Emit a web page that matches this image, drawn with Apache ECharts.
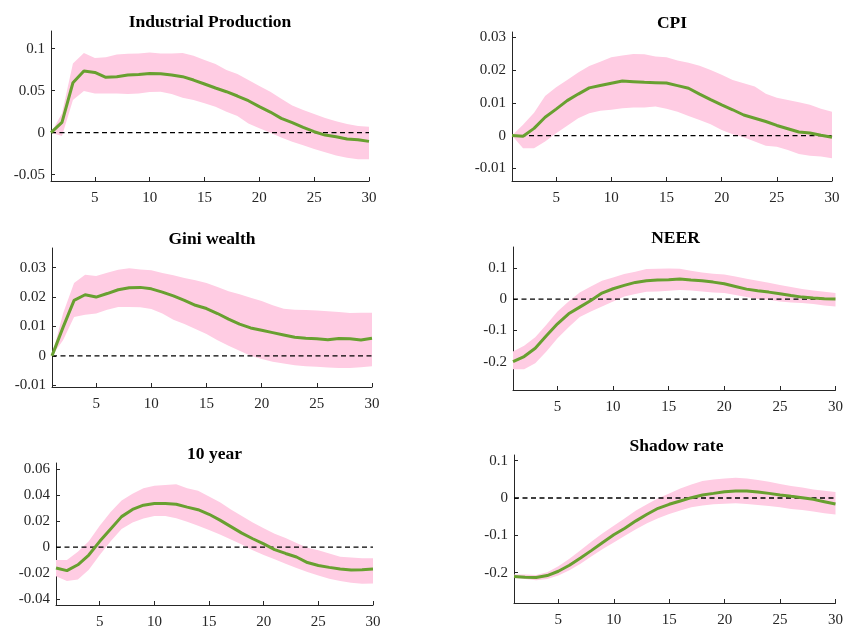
<!DOCTYPE html>
<html>
<head>
<meta charset="utf-8">
<script src="https://cdn.jsdelivr.net/npm/echarts@6/dist/echarts.min.js"></script>
<style>
html,body{margin:0;padding:0;background:#fff;}
#chart{width:846px;height:630px;}
</style>
</head>
<body>
<div id="chart"></div>
<script>
// Horizons 1..30
var horizons = [];
for (var h = 1; h <= 30; h++) horizons.push(h);
var xTicks = [5, 10, 15, 20, 25, 30];

var titles = ["Industrial Production", "CPI", "Gini wealth", "NEER", "10 year", "Shadow rate"];

// Industrial Production
var ipMedian = [0, 0.0123, 0.0595, 0.0734, 0.0718, 0.0659, 0.0667, 0.0687, 0.0694, 0.0706, 0.0702, 0.0687, 0.0667, 0.0627, 0.058, 0.0532, 0.0488, 0.0437, 0.0381, 0.031, 0.0246, 0.0171, 0.0119, 0.0063, 0.0012, -0.0028, -0.0048, -0.0075, -0.0083, -0.0103];
var ipUpper = [0, 0.023, 0.0825, 0.095, 0.089, 0.0897, 0.093, 0.094, 0.0944, 0.0956, 0.0944, 0.0944, 0.095, 0.0917, 0.0865, 0.0817, 0.0746, 0.0698, 0.0627, 0.0556, 0.0488, 0.0405, 0.0325, 0.027, 0.0222, 0.0175, 0.0135, 0.0103, 0.0079, 0.0071];
var ipLower = [0, -0.004, 0.039, 0.0496, 0.0468, 0.0468, 0.0468, 0.046, 0.0468, 0.0484, 0.0488, 0.046, 0.0417, 0.039, 0.035, 0.031, 0.025, 0.0198, 0.011, 0.0052, 0, -0.0056, -0.0107, -0.015, -0.0194, -0.0234, -0.027, -0.0298, -0.0317, -0.0317];
var ipTicks = [-0.05, 0, 0.05, 0.1];

// CPI
var cpiMedian = [0, -0.0002, 0.0022, 0.0056, 0.0081, 0.0107, 0.0127, 0.0146, 0.0153, 0.016, 0.0167, 0.0165, 0.0163, 0.0162, 0.0161, 0.0153, 0.0145, 0.0127, 0.011, 0.0094, 0.0079, 0.0063, 0.0053, 0.0043, 0.0031, 0.0021, 0.0011, 0.0008, 0.0001, -0.0005];
var cpiUpper = [0, 0.0033, 0.007, 0.0121, 0.0148, 0.017, 0.0193, 0.0213, 0.0226, 0.024, 0.0245, 0.025, 0.0249, 0.0242, 0.024, 0.023, 0.0223, 0.0214, 0.0201, 0.0186, 0.017, 0.016, 0.015, 0.0128, 0.0116, 0.0109, 0.0102, 0.0094, 0.0082, 0.0073];
var cpiLower = [0, -0.0039, -0.0039, -0.0018, 0.0007, 0.003, 0.0053, 0.0068, 0.0076, 0.0079, 0.0084, 0.0086, 0.0086, 0.0089, 0.0082, 0.0073, 0.006, 0.0048, 0.0035, 0.0017, 0.0004, -0.0005, -0.0018, -0.0031, -0.0034, -0.0044, -0.0056, -0.0062, -0.0064, -0.0069];
var cpiTicks = [-0.01, 0, 0.01, 0.02, 0.03];

// Gini wealth
var giniMedian = [0, 0.0097, 0.0189, 0.0208, 0.02, 0.0212, 0.0225, 0.0232, 0.0233, 0.0228, 0.0217, 0.0204, 0.0189, 0.0172, 0.0161, 0.0144, 0.0125, 0.0108, 0.0095, 0.0087, 0.0079, 0.0071, 0.0063, 0.006, 0.0058, 0.0055, 0.0059, 0.0058, 0.0054, 0.006];
var giniUpper = [0, 0.0144, 0.0248, 0.0276, 0.0272, 0.0283, 0.0293, 0.0298, 0.0294, 0.0291, 0.0282, 0.0274, 0.0265, 0.0257, 0.0248, 0.0234, 0.022, 0.021, 0.0198, 0.0187, 0.0172, 0.016, 0.0157, 0.0156, 0.0154, 0.0152, 0.0149, 0.0146, 0.0147, 0.0147];
var giniLower = [0, 0.0053, 0.0132, 0.014, 0.0144, 0.0157, 0.0166, 0.0166, 0.0165, 0.0159, 0.0144, 0.0123, 0.0108, 0.0091, 0.0074, 0.0053, 0.0034, 0.0017, 0, -0.0011, -0.002, -0.0026, -0.0032, -0.0035, -0.0037, -0.004, -0.0041, -0.0041, -0.0039, -0.0035];
var giniTicks = [-0.01, 0, 0.01, 0.02, 0.03];

// NEER
var neerMedian = [-0.2, -0.1836, -0.157, -0.117, -0.079, -0.047, -0.0256, -0.0043, 0.0192, 0.0331, 0.0438, 0.0534, 0.0587, 0.0608, 0.0619, 0.064, 0.0608, 0.0587, 0.0544, 0.049, 0.0406, 0.032, 0.0267, 0.0224, 0.0171, 0.0117, 0.0064, 0.0032, 0.001, 0];
var neerUpper = [-0.1675, -0.149, -0.122, -0.082, -0.0395, -0.0075, 0.0213, 0.0405, 0.0587, 0.0694, 0.08, 0.0875, 0.096, 0.0971, 0.0982, 0.0971, 0.0907, 0.0854, 0.0811, 0.079, 0.0726, 0.0651, 0.0587, 0.0523, 0.0448, 0.0384, 0.032, 0.0277, 0.0235, 0.0192];
var neerLower = [-0.224, -0.224, -0.205, -0.1675, -0.125, -0.0896, -0.0576, -0.0395, -0.0235, -0.0075, 0.0085, 0.016, 0.0235, 0.0245, 0.0267, 0.0288, 0.0277, 0.0245, 0.0213, 0.0192, 0.0128, 0.0064, 0, -0.0021, -0.0075, -0.0107, -0.0128, -0.016, -0.0203, -0.0235];
var neerTicks = [-0.2, -0.1, 0, 0.1];

// 10 year
var tenMedian = [-0.016, -0.018, -0.0135, -0.006, 0.0045, 0.014, 0.0235, 0.029, 0.0323, 0.0335, 0.0335, 0.033, 0.0308, 0.0288, 0.0253, 0.0208, 0.0158, 0.0108, 0.0065, 0.0025, -0.0018, -0.0048, -0.0075, -0.0118, -0.014, -0.0155, -0.0168, -0.0175, -0.0173, -0.0168];
var tenUpper = [-0.0098, -0.0098, -0.0035, 0.0045, 0.0165, 0.027, 0.0358, 0.041, 0.0453, 0.0473, 0.0478, 0.0483, 0.0453, 0.0433, 0.039, 0.0345, 0.029, 0.024, 0.019, 0.0145, 0.0103, 0.007, 0.0033, -0.0005, -0.0023, -0.0048, -0.0073, -0.008, -0.0085, -0.0085];
var tenLower = [-0.0223, -0.026, -0.0248, -0.0173, -0.006, 0.0045, 0.014, 0.019, 0.022, 0.024, 0.024, 0.0223, 0.0195, 0.0165, 0.0133, 0.0098, 0.006, 0.002, -0.0023, -0.006, -0.0093, -0.0128, -0.016, -0.019, -0.0218, -0.0243, -0.026, -0.0273, -0.028, -0.0278];
var tenTicks = [-0.04, -0.02, 0, 0.02, 0.04, 0.06];

// Shadow rate
var shadowMedian = [-0.2107, -0.2124, -0.2133, -0.208, -0.1964, -0.1804, -0.1609, -0.1404, -0.1191, -0.0987, -0.0809, -0.0613, -0.0436, -0.0276, -0.0169, -0.008, 0.0009, 0.008, 0.0124, 0.0169, 0.0187, 0.0187, 0.016, 0.0124, 0.008, 0.0044, 0.0009, -0.0036, -0.0098, -0.016];
var shadowUpper = [-0.2053, -0.2053, -0.2062, -0.1991, -0.1831, -0.1627, -0.1404, -0.1164, -0.0942, -0.0747, -0.0542, -0.0338, -0.0169, -0.0009, 0.0124, 0.0258, 0.0364, 0.0453, 0.0498, 0.0524, 0.0542, 0.0524, 0.048, 0.0436, 0.0373, 0.032, 0.0284, 0.0231, 0.0196, 0.016];
var shadowLower = [-0.2142, -0.2169, -0.2204, -0.2169, -0.208, -0.1938, -0.176, -0.1564, -0.1369, -0.1191, -0.1013, -0.0836, -0.0676, -0.0542, -0.0427, -0.0338, -0.0249, -0.0204, -0.0169, -0.0151, -0.0142, -0.016, -0.0187, -0.0213, -0.0249, -0.0293, -0.032, -0.0364, -0.0409, -0.0444];
var shadowTicks = [-0.2, -0.1, 0, 0.1];

var panels = [
  {title: titles[0], med: ipMedian, up: ipUpper, lo: ipLower, ticks: ipTicks, min: -0.0575, max: 0.1211, grid: {left: 51, top: 31, width: 318, height: 150}},
  {title: titles[1], med: cpiMedian, up: cpiUpper, lo: cpiLower, ticks: cpiTicks, min: -0.0139, max: 0.0317, grid: {left: 512, top: 32, width: 320, height: 149}},
  {title: titles[2], med: giniMedian, up: giniUpper, lo: giniLower, ticks: giniTicks, min: -0.0106, max: 0.0367, grid: {left: 52, top: 248, width: 320, height: 139}},
  {title: titles[3], med: neerMedian, up: neerUpper, lo: neerLower, ticks: neerTicks, min: -0.2907, max: 0.1667, grid: {left: 513, top: 247, width: 325, height: 143}},
  {title: titles[4], med: tenMedian, up: tenUpper, lo: tenLower, ticks: tenTicks, min: -0.0444, max: 0.0647, grid: {left: 56, top: 463, width: 317, height: 145}},
  {title: titles[5], med: shadowMedian, up: shadowUpper, lo: shadowLower, ticks: shadowTicks, min: -0.2815, max: 0.1153, grid: {left: 514, top: 455, width: 325, height: 148}}
];

var axisColor = '#262626';
var font = '"Liberation Serif", "Times New Roman", serif';

var option = {
  animation: false,
  backgroundColor: '#ffffff',
  title: [], grid: [], xAxis: [], yAxis: [], series: []
};

function bandRenderer(p) {
  return function (params, api) {
    if (params.dataIndex !== 0) return null;
    var pts = [];
    for (var k = 0; k < horizons.length; k++) pts.push(api.coord([horizons[k], p.up[k]]));
    for (var k2 = horizons.length - 1; k2 >= 0; k2--) pts.push(api.coord([horizons[k2], p.lo[k2]]));
    return {type: 'polygon', shape: {points: pts}, style: {fill: '#ffcce3', stroke: null}};
  };
}

panels.forEach(function (p, i) {
  var g = p.grid;
  option.grid.push({left: g.left, top: g.top, width: g.width, height: g.height, containLabel: false});
  option.title.push({
    text: p.title,
    left: g.left + g.width / 2,
    top: g.top - 18,
    padding: 0,
    textAlign: 'center',
    textStyle: {fontFamily: font, fontWeight: 'bold', fontSize: 17.5, color: '#000'}
  });
  option.xAxis.push({
    type: 'value', gridIndex: i, min: 1, max: 30,
    axisLine: {show: true, onZero: false, lineStyle: {color: axisColor, width: 1}},
    axisTick: {show: true, inside: true, length: 4, customValues: xTicks, lineStyle: {color: axisColor}},
    axisLabel: {show: true, customValues: xTicks, margin: 10, fontFamily: font, fontSize: 15, color: axisColor,
      formatter: function (v) { return String(v); }},
    splitLine: {show: false}
  });
  option.yAxis.push({
    type: 'value', gridIndex: i, min: p.min, max: p.max,
    axisLine: {show: true, onZero: false, lineStyle: {color: axisColor, width: 1}},
    axisTick: {show: true, inside: true, length: 4, customValues: p.ticks, lineStyle: {color: axisColor}},
    axisLabel: {show: true, customValues: p.ticks, margin: 6, fontFamily: font, fontSize: 15, color: axisColor,
      formatter: function (v) { return String(Math.round(v * 1000) / 1000); }},
    splitLine: {show: false}
  });
  option.series.push({
    type: 'custom', xAxisIndex: i, yAxisIndex: i,
    data: horizons.map(function (h, k) { return [h, p.up[k], p.lo[k]]; }),
    encode: {x: 0, y: [1, 2]},
    renderItem: bandRenderer(p), silent: true, z: 1
  });
  option.series.push({
    type: 'line', xAxisIndex: i, yAxisIndex: i, data: [[1, 0], [30, 0]],
    symbol: 'none', lineStyle: {color: '#000', width: 1.3, type: [5, 3.5]}, silent: true, z: 2
  });
  option.series.push({
    type: 'line', xAxisIndex: i, yAxisIndex: i,
    data: horizons.map(function (h, k) { return [h, p.med[k]]; }),
    symbol: 'none', lineStyle: {color: '#68a030', width: 3}, silent: true, z: 3
  });
});

var chart = echarts.init(document.getElementById('chart'), null, {renderer: 'canvas'});
chart.setOption(option);
</script>
</body>
</html>
